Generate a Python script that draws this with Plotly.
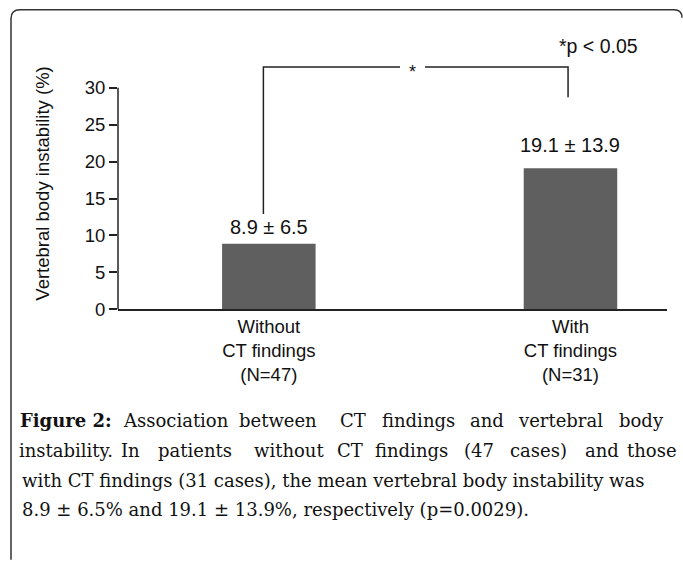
import plotly.graph_objects as go

# ---------------- data ----------------
categories = ["Without<br>CT findings<br>(N=47)", "With<br>CT findings<br>(N=31)"]
means = [8.9, 19.1]
sds = [6.5, 13.9]
value_labels = ["8.9 ± 6.5", "19.1 ± 13.9"]
y_ticks = [0, 5, 10, 15, 20, 25, 30]
y_title = "Vertebral body instability (%)"
sig_note = "*p < 0.05"
sig_star = "*"
# significance bracket levels (in % units)
bracket_left_bottom = 12.9
bracket_right_bottom = 28.7
bracket_top = 32.8
sig_note_level = 35.6

caption_line1 = ["<b>Figure 2:</b>", "Association", "between", "CT", "findings", "and", "vertebral", "body"]
caption_line2 = ["instability.", "In", "patients", "without", "CT", "findings", "(47", "cases)", "and", "those"]
caption_line3 = "with CT findings (31 cases), the mean vertebral body instability was"
caption_line4 = "8.9 ± 6.5% and 19.1 ± 13.9%, respectively (p=0.0029)."

# ---------------- layout helpers ----------------
W, H = 683, 562
def px(x):
    return x / W
def py(y):
    return 1 - y / H

SANS = "Liberation Sans, Arial, sans-serif"
SERIF = "DejaVu Serif, serif"
BAR_COLOR = "#5f5f5f"
LINE_COLOR = "#222222"

x_pos = list(range(len(categories)))
y_top = 36.55

fig = go.Figure()
fig.add_trace(go.Bar(
    x=x_pos, y=means, width=0.31,
    marker=dict(color=BAR_COLOR, line=dict(width=0)),
    hoverinfo="skip", showlegend=False,
))

# significance bracket
xl = x_pos[0] - 0.018
xr = x_pos[1] - 0.008
gap_l, gap_r = 0.435, 0.518
fig.add_trace(go.Scatter(
    x=[xl, xl, gap_l, None, gap_r, xr, xr],
    y=[bracket_left_bottom, bracket_top, bracket_top, None, bracket_top, bracket_top, bracket_right_bottom],
    mode="lines", line=dict(color=LINE_COLOR, width=1.5),
    hoverinfo="skip", showlegend=False, cliponaxis=False,
))

annotations = []
# value labels above bars
label_offsets = [2.3, 3.2]
for i, (m, lab) in enumerate(zip(means, value_labels)):
    annotations.append(dict(x=x_pos[i], y=m + label_offsets[i], xref="x", yref="y",
                            text=lab, showarrow=False, yanchor="middle",
                            font=dict(family=SANS, size=20, color="#111")))
annotations.append(dict(x=(gap_l + gap_r) / 2, y=bracket_top, xref="x", yref="y",
                        text=sig_star, showarrow=False, yanchor="middle", yshift=-5,
                        font=dict(family=SANS, size=18, color="#111")))
annotations.append(dict(x=1.092, y=sig_note_level, xref="x", yref="y",
                        text=sig_note, showarrow=False, yanchor="middle",
                        font=dict(family=SANS, size=19.5, color="#111")))
# y axis title
annotations.append(dict(x=px(43), y=py(187), xref="paper", yref="paper",
                        text=y_title, showarrow=False, textangle=-90,
                        xanchor="center", yanchor="middle",
                        font=dict(family=SANS, size=18.5, color="#111")))

# caption
line1_centers = [66, 175.5, 278, 353, 418, 487.5, 560, 641]
line2_centers = [65.5, 130.5, 194.5, 289, 350, 411, 479, 538.5, 602, 651.5]
cap_font = dict(family=SERIF, size=18, color="#111")
for w, c in zip(caption_line1, line1_centers):
    annotations.append(dict(x=px(c), y=py(428), xref="paper", yref="paper", text=w,
                            showarrow=False, xanchor="center", yanchor="middle", font=cap_font))
for w, c in zip(caption_line2, line2_centers):
    annotations.append(dict(x=px(c), y=py(458.5), xref="paper", yref="paper", text=w,
                            showarrow=False, xanchor="center", yanchor="middle", font=cap_font))
annotations.append(dict(x=px(20), y=py(489), xref="paper", yref="paper", text=caption_line3,
                        showarrow=False, xanchor="left", yanchor="middle", font=cap_font))
annotations.append(dict(x=px(20), y=py(519), xref="paper", yref="paper", text=caption_line4,
                        showarrow=False, xanchor="left", yanchor="middle", font=cap_font))

# frame (rounded box partially visible)
def P(x, y):
    return f"{px(x):.5f},{py(y):.5f}"
frame_path = (f"M {P(11, 570)} L {P(11, 19)} Q {P(11, 10)} {P(20, 10)} "
              f"L {P(674, 10)} Q {P(682, 10)} {P(682, 18)}")

shapes = [
    dict(type="path", path=frame_path, xref="paper", yref="paper",
         line=dict(color="#333", width=1.5)),
    # y axis line from 0 to 30
    dict(type="line", xref="x domain", yref="y", x0=0, x1=0, y0=0, y1=y_ticks[-1],
         line=dict(color=LINE_COLOR, width=1.5)),
]

fig.update_layout(
    autosize=True,
    margin=dict(l=0, r=0, t=0, b=0),
    paper_bgcolor="white", plot_bgcolor="white",
    showlegend=False,
    annotations=annotations,
    shapes=shapes,
    xaxis=dict(domain=[px(118), px(667)], range=[-0.5, 1.32],
               tickvals=x_pos, ticktext=categories, showgrid=False, zeroline=False,
               showline=True, linecolor=LINE_COLOR, linewidth=1.5, ticks="",
               tickfont=dict(family=SANS, size=18.5, color="#111")),
    yaxis=dict(domain=[py(315), py(40)], range=[0, y_top],
               tickvals=y_ticks, showgrid=False, zeroline=False, showline=False,
               ticks="outside", ticklen=8, tickwidth=1.5, tickcolor=LINE_COLOR,
               tickfont=dict(family=SANS, size=18.5, color="#111")),
)

post = (
    "var s=document.createElement('style');"
    "s.innerHTML='html,body{margin:0;padding:0;overflow:hidden;height:100%;}';"
    "document.head.appendChild(s);"
    "var d=document.getElementById('{plot_id}');"
    "d.style.width='100vw';d.style.height='100vh';"
    "Plotly.Plots.resize(d);"
)
fig.write_html("out.html", config={"displayModeBar": False, "responsive": True},
               default_width="100vw", default_height="100vh",
               post_script=post)
